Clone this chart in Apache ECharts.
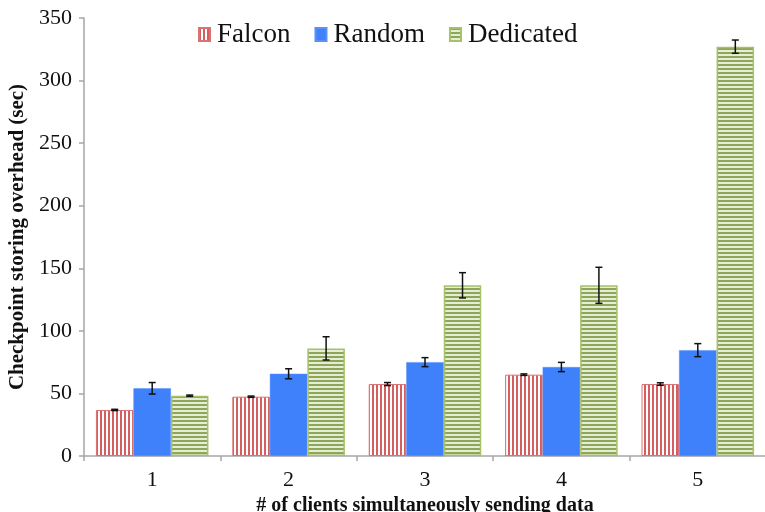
<!DOCTYPE html>
<html>
<head>
<meta charset="utf-8">
<script src="https://cdn.jsdelivr.net/npm/echarts@6/dist/echarts.min.js"></script>
<style>
  html, body { margin: 0; padding: 0; background: #ffffff; }
  #chart { width: 765px; height: 512px; }
</style>
</head>
<body>
<div id="chart"></div>
<script>
// Checkpoint storing overhead by number of simultaneously sending clients
const categories = ['1', '2', '3', '4', '5'];
const seriesNames = ['Falcon', 'Random', 'Dedicated'];

const falconMean = [36.8, 47.4, 57.5, 65.0, 57.5];
const falconErr = [0.5, 0.5, 1.2, 0.6, 1.0];

const randomMean = [54.1, 65.7, 75.0, 71.1, 84.6];
const randomErr = [4.6, 4.0, 3.6, 3.7, 5.2];

const dedicatedMean = [48.2, 86.0, 136.4, 136.4, 327.1];
const dedicatedErr = [0.5, 9.3, 10.1, 14.4, 5.3];

const yTicks = { min: 0, max: 350, interval: 50 };

const FONT = '"Liberation Serif", "Times New Roman", serif';
const CATEGORY_GAP = 0.175;

// Striped fills built on small canvases used as repeating patterns
function stripePattern(vertical, lineColor, bgColor, period, lineWidth) {
  const c = document.createElement('canvas');
  c.width = vertical ? period : 8;
  c.height = vertical ? 8 : period;
  const ctx = c.getContext('2d');
  ctx.fillStyle = bgColor;
  ctx.fillRect(0, 0, c.width, c.height);
  ctx.fillStyle = lineColor;
  if (vertical) ctx.fillRect(0, 0, lineWidth, c.height);
  else ctx.fillRect(0, 0, c.width, lineWidth);
  return c;
}

const falconFill = { image: stripePattern(true, '#d45f60', '#ffffff', 4, 2), repeat: 'repeat' };
const dedicatedFill = { image: stripePattern(false, '#8ea657', '#e6edd6', 4, 2), repeat: 'repeat' };

// Error bars drawn at the top of each bar in a group
function errorSeries(means, errs, slot) {
  return {
    type: 'custom',
    z: 10,
    silent: true,
    data: means.map((m, i) => [i, m, errs[i]]),
    renderItem: function (params, api) {
      const idx = api.value(0);
      const mean = api.value(1);
      const err = api.value(2);
      const band = api.size([1, 0])[0];
      const barW = band * (1 - CATEGORY_GAP) / 3;
      const center = api.coord([idx, mean]);
      const x = center[0] + (slot - 1) * barW;
      const yHi = api.coord([idx, mean + err])[1];
      const yLo = api.coord([idx, mean - err])[1];
      const cap = 3.5;
      const style = { stroke: '#111111', lineWidth: 1.5, fill: null };
      return {
        type: 'group',
        children: [
          { type: 'line', shape: { x1: x, y1: yHi, x2: x, y2: yLo }, style: style },
          { type: 'line', shape: { x1: x - cap, y1: yHi, x2: x + cap, y2: yHi }, style: style },
          { type: 'line', shape: { x1: x - cap, y1: yLo, x2: x + cap, y2: yLo }, style: style }
        ]
      };
    }
  };
}

const chart = echarts.init(document.getElementById('chart'), null, { renderer: 'canvas' });

chart.setOption({
  animation: false,
  backgroundColor: '#ffffff',
  legend: {
    data: seriesNames,
    top: 16,
    left: 193,
    icon: 'rect',
    itemWidth: 11,
    itemHeight: 13,
    itemGap: 24,
    textStyle: { fontFamily: FONT, fontSize: 27, color: '#111111', padding: [3, 0, 0, 2] }
  },
  grid: { left: 84, top: 18, width: 682, height: 438, containLabel: false, outerBoundsMode: 'none' },
  xAxis: {
    type: 'category',
    data: categories,
    name: '# of clients simultaneously sending data',
    nameLocation: 'middle',
    nameGap: 37,
    nameTextStyle: { fontFamily: FONT, fontSize: 20, fontWeight: 'bold', color: '#111111' },
    axisLine: { show: true, lineStyle: { color: '#a6a6a6', width: 1.5 } },
    axisTick: { show: true, length: 5, lineStyle: { color: '#a6a6a6', width: 1.5 } },
    axisLabel: { fontFamily: FONT, fontSize: 22, color: '#111111', margin: 13 }
  },
  yAxis: {
    type: 'value',
    min: yTicks.min,
    max: yTicks.max,
    interval: yTicks.interval,
    name: 'Checkpoint storing overhead (sec)',
    nameLocation: 'middle',
    nameGap: 54,
    nameTextStyle: { fontFamily: FONT, fontSize: 21, fontWeight: 'bold', color: '#111111' },
    splitLine: { show: false },
    axisLine: { show: true, lineStyle: { color: '#a6a6a6', width: 1.5 } },
    axisTick: { show: true, length: 5, lineStyle: { color: '#a6a6a6', width: 1.5 } },
    axisLabel: { fontFamily: FONT, fontSize: 22, color: '#111111', margin: 12 }
  },
  series: [
    {
      name: seriesNames[0], type: 'bar', data: falconMean,
      barGap: '0%', barCategoryGap: (CATEGORY_GAP * 100) + '%',
      itemStyle: { color: falconFill, borderColor: '#db7272', borderWidth: 1 }
    },
    {
      name: seriesNames[1], type: 'bar', data: randomMean,
      barGap: '0%', barCategoryGap: (CATEGORY_GAP * 100) + '%',
      itemStyle: { color: '#3f80fb', borderColor: '#5a90fb', borderWidth: 0.5 }
    },
    {
      name: seriesNames[2], type: 'bar', data: dedicatedMean,
      barGap: '0%', barCategoryGap: (CATEGORY_GAP * 100) + '%',
      itemStyle: { color: dedicatedFill, borderColor: '#a6c166', borderWidth: 1.5 }
    },
    errorSeries(falconMean, falconErr, 0),
    errorSeries(randomMean, randomErr, 1),
    errorSeries(dedicatedMean, dedicatedErr, 2)
  ]
});
</script>
</body>
</html>
